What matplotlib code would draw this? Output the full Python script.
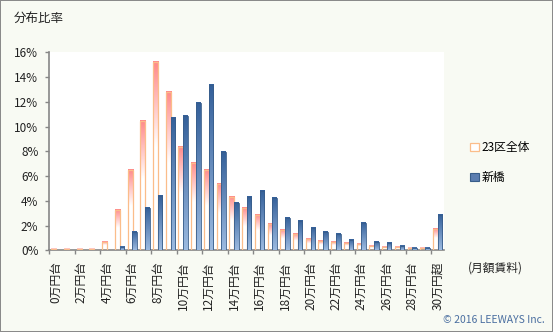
import numpy as np
import matplotlib.pyplot as plt
from matplotlib.colors import LinearSegmentedColormap
from matplotlib.patches import Patch

plt.rcParams['font.family'] = ['Noto Sans CJK JP', 'DejaVu Sans']

# 0万円台 .. 29万円台, 30万円超
categories = [f"{i}万円台" for i in range(30)] + ["30万円超"]
tokyo23 = [0.1, 0.1, 0.1, 0.1, 0.7, 3.3, 6.5, 10.5, 15.2, 12.8,
           8.4, 7.1, 6.5, 5.35, 4.3, 3.4, 2.87, 2.14, 1.66, 1.33,
           0.93, 0.77, 0.69, 0.6, 0.52, 0.36, 0.28, 0.28, 0.2, 0.2, 1.74]
shinbashi = [0, 0, 0, 0, 0, 0.3, 1.5, 3.43, 4.4, 10.7,
             10.87, 11.9, 13.37, 7.96, 3.84, 4.32, 4.81, 4.24, 2.63, 2.38,
             1.82, 1.5, 1.33, 0.85, 2.22, 0.69, 0.6, 0.36, 0.2, 0.2, 2.87]
series_names = ["23区全体", "新橋"]

bg = '#f8faf3'
fig = plt.figure(figsize=(5.53, 3.32), dpi=100, facecolor=bg,
                 edgecolor='#8a8a8a', linewidth=1.2)
ax = fig.add_axes([0.0895, 0.2455, 0.7135, 0.5965])
ax.set_facecolor('white')

x = np.arange(len(categories))
orange_cmap = LinearSegmentedColormap.from_list(
    'o', [(0, 'white'), (0.55, 'white'), (1, '#ff8a8a')])
blue_cmap = LinearSegmentedColormap.from_list(
    'b', [(0, '#9cbae0'), (1, '#34609a')])
grad = np.linspace(0, 1, 100).reshape(-1, 1)

bars_o = ax.bar(x - 0.17, tokyo23, width=0.40, facecolor='none',
                edgecolor='#fbbd8a', linewidth=0.9, zorder=3)
bars_b = ax.bar(x + 0.19, shinbashi, width=0.36, facecolor='none',
                edgecolor='#385d8a', linewidth=0.6, zorder=5)

for bars, cmap, z in [(bars_o, orange_cmap, 2), (bars_b, blue_cmap, 4)]:
    for b in bars:
        h = b.get_height()
        if h <= 0:
            continue
        x0 = b.get_x()
        ax.imshow(grad, cmap=cmap, origin='lower', aspect='auto',
                  interpolation='bilinear',
                  extent=[x0, x0 + b.get_width(), 0, h], zorder=z)

ax.set_xlim(-0.5, len(categories) - 0.5)
ax.set_ylim(0, 16)

for s in ['top', 'right']:
    ax.spines[s].set_visible(False)
for s in ['left', 'bottom']:
    ax.spines[s].set_color('#868686')
    ax.spines[s].set_linewidth(1.2)

ax.set_yticks(np.arange(0, 17, 2))
ax.set_yticklabels([f"{v}%" for v in range(0, 17, 2)])
ax.tick_params(axis='y', direction='out', length=3, width=1, color='#868686',
               labelsize=8.5, labelcolor='#222222', pad=5)

ax.set_xticks(np.arange(-0.5, len(categories) - 1, 2))
ax.set_xticklabels([])
ax.tick_params(axis='x', which='major', direction='out', length=3, width=1,
               color='#868686')
ax.set_xticks(x[::2], minor=True)
ax.set_xticklabels(categories[::2], minor=True, rotation=90)
ax.tick_params(axis='x', which='minor', length=0, pad=8, labelsize=8.5,
               labelcolor='#222222')

handles = [Patch(facecolor='white', edgecolor='#fbbd8a', linewidth=0.9),
           Patch(facecolor='#5b7db0', edgecolor='#385d8a', linewidth=0.8)]
fig.legend(handles, series_names, loc='center left',
           bbox_to_anchor=(0.842, 0.51), frameon=False, fontsize=8.5,
           handlelength=0.7, handleheight=0.7, handletextpad=0.25,
           labelspacing=1.45, borderaxespad=0)

fig.text(0.024, 0.945, "分布比率", fontsize=9, color='#222222', va='center')
fig.text(0.895, 0.193, "(月額賃料)", fontsize=8.5, color='#222222',
         ha='center', va='center')
fig.text(0.985, 0.037, "© 2016 LEEWAYS Inc.", fontsize=7.5, color='#4a6ea0',
         ha='right', va='center')

fig.savefig('out.png', dpi=100, facecolor=bg, edgecolor='#8a8a8a')
